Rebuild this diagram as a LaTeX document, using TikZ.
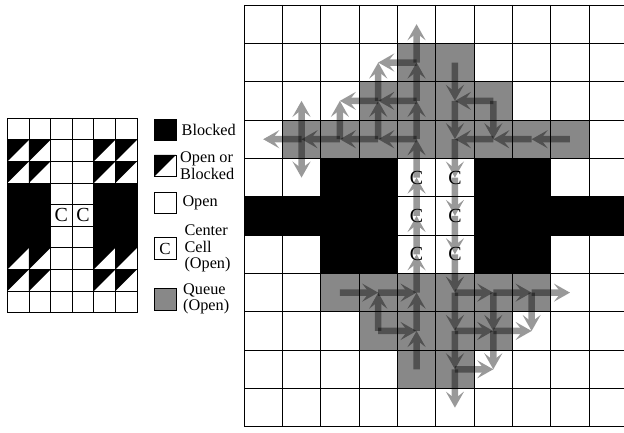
\documentclass[tikz,border=0pt]{standalone}
\usepackage{fontspec}
\setmainfont{Liberation Serif}
\usetikzlibrary{arrows.meta}
\definecolor{qgray}{HTML}{888888}
\begin{document}
\begin{tikzpicture}[x=1bp,y=-1bp]
\tikzset{
  gridline/.style={black, line width=0.8bp},
  qcell/.style={fill=qgray},
  bcell/.style={fill=black},
  arr/.style={black, line width=6.5bp, -{Stealth[length=16bp,width=18bp,inset=7bp]}},
  lbl/.style={font=\fontsize{16.3}{16.7}\selectfont, inner sep=0pt, anchor=west, align=left},
  cbig/.style={font=\fontsize{20}{20}\selectfont, inner sep=0pt},
  csmall/.style={font=\fontsize{17}{17}\selectfont, inner sep=0pt},
  legbox/.style={draw=black, line width=0.8bp}
}
\useasboundingbox (0,0) rectangle (624,433);
\clip (0,0) rectangle (624,433);
\fill[white] (0,0) rectangle (624,433);
% ---------------- right grid ----------------
\def\RX{244}\def\RY{5}\def\RS{38.35}
\foreach \i in {0,...,9}{\foreach \j in {0,...,10}{
  \coordinate (r-\i-\j) at ({\RX+\RS*(\i+0.5)},{\RY+\RS*(\j+0.5)});}}
\foreach \i/\j in {4/1,5/1,3/2,4/2,5/2,6/2,1/3,2/3,3/3,4/3,5/3,6/3,7/3,8/3,
                   2/7,3/7,4/7,5/7,6/7,7/7,3/8,4/8,5/8,6/8,4/9,5/9}
  \fill[qcell] ({\RX+\RS*\i},{\RY+\RS*\j}) rectangle +(\RS,\RS);
\foreach \i/\j in {2/4,3/4,6/4,7/4,0/5,1/5,2/5,3/5,6/5,7/5,8/5,9/5,2/6,3/6,6/6,7/6}
  \fill[bcell] ({\RX+\RS*\i},{\RY+\RS*\j}) rectangle +(\RS,\RS);
\foreach \i in {0,...,10}
  \draw[gridline] ({\RX+\RS*\i},\RY) -- ({\RX+\RS*\i},{\RY+\RS*11});
\foreach \j in {0,...,11}
  \draw[gridline] (\RX,{\RY+\RS*\j}) -- ({\RX+\RS*10},{\RY+\RS*\j});
% arrows
\foreach \a/\b/\c/\d in {
  4/9/4/8, 4/8/4/7, 4/7/4/6, 4/6/4/5, 4/5/4/4, 4/4/4/3, 4/3/4/2, 4/2/4/1, 4/1/4/0,
  4/3/3/3, 3/3/2/3, 2/3/1/3, 1/3/0/3,
  1/3/1/2, 1/3/1/4, 2/3/2/2, 3/3/3/2, 3/2/3/1, 4/2/3/2, 3/2/2/2, 4/1/3/1,
  5/1/5/2, 5/2/5/3, 5/3/5/4, 5/4/5/5, 5/5/5/6, 5/6/5/7, 5/7/5/8, 5/8/5/9, 5/9/5/10,
  6/2/5/2, 6/2/6/3, 8/3/7/3, 7/3/6/3, 6/3/5/3,
  2/7/3/7, 3/7/4/7, 3/8/3/7, 3/8/4/8,
  5/7/6/7, 6/7/7/7, 7/7/8/7, 6/7/6/8, 6/8/6/9, 7/7/7/8, 5/8/6/8, 6/8/7/8, 5/9/6/9}{
  \begin{scope}[transparency group, opacity=0.4]
    \draw[arr] (r-\a-\b) -- (r-\c-\d);
  \end{scope}}
\foreach \i/\j in {4/4,5/4,4/5,5/5,4/6,5/6}
  \node[cbig] (rc-\i-\j) at (r-\i-\j) {C};
% ---------------- left grid ----------------
\def\LX{7.3}\def\LY{118.3}\def\LS{21.6}
\foreach \i in {0,...,5}{\foreach \j in {0,...,8}{
  \coordinate (l-\i-\j) at ({\LX+\LS*(\i+0.5)},{\LY+\LS*(\j+0.5)});}}
\foreach \i/\j in {0/3,1/3,4/3,5/3,0/4,1/4,4/4,5/4,0/5,1/5,4/5,5/5}
  \fill[bcell] ({\LX+\LS*\i},{\LY+\LS*\j}) rectangle +(\LS,\LS);
\foreach \i/\j in {0/1,1/1,4/1,5/1,0/2,1/2,4/2,5/2,0/6,1/6,4/6,5/6,0/7,1/7,4/7,5/7}
  \fill[bcell] ({\LX+\LS*\i},{\LY+\LS*\j}) -- ++(\LS,0) -- ++(-\LS,\LS) -- cycle;
\foreach \i in {0,...,6}
  \draw[gridline] ({\LX+\LS*\i},\LY) -- ({\LX+\LS*\i},{\LY+\LS*9});
\foreach \j in {0,...,9}
  \draw[gridline] (\LX,{\LY+\LS*\j}) -- ({\LX+\LS*6},{\LY+\LS*\j});
\node[cbig] (lc-2) at (l-2-4) {C};
\node[cbig] (lc-3) at (l-3-4) {C};
% ---------------- legend ----------------
\def\BX{154.3}
\fill[bcell] (\BX,119) rectangle +(\LS,\LS);
\draw[legbox] (\BX,119) rectangle +(\LS,\LS);
\draw[legbox] (\BX,155) rectangle +(\LS,\LS);
\fill[bcell] (\BX,155) -- ++(\LS,0) -- ++(-\LS,\LS) -- cycle;
\draw[legbox] (\BX,192) rectangle +(\LS,\LS);
\draw[legbox] (\BX,237.7) rectangle +(\LS,\LS);
\node[csmall] (legc) at ({\BX+\LS/2},{237.7+\LS/2}) {C};
\fill[qcell] (\BX,288.3) rectangle +(\LS,\LS);
\draw[legbox] (\BX,288.3) rectangle +(\LS,\LS);
\node[lbl] (t-blocked) at (181.5,130) {Blocked};
\node[lbl] (t-oob) at (180,166) {Open or\\Blocked};
\node[lbl] (t-open) at (182.3,202.5) {Open};
\node[lbl] (t-center) at (184.3,248.5) {Center\\Cell\\(Open)};
\node[lbl] (t-queue) at (183,299) {Queue\\(Open)};
\end{tikzpicture}
\end{document}
